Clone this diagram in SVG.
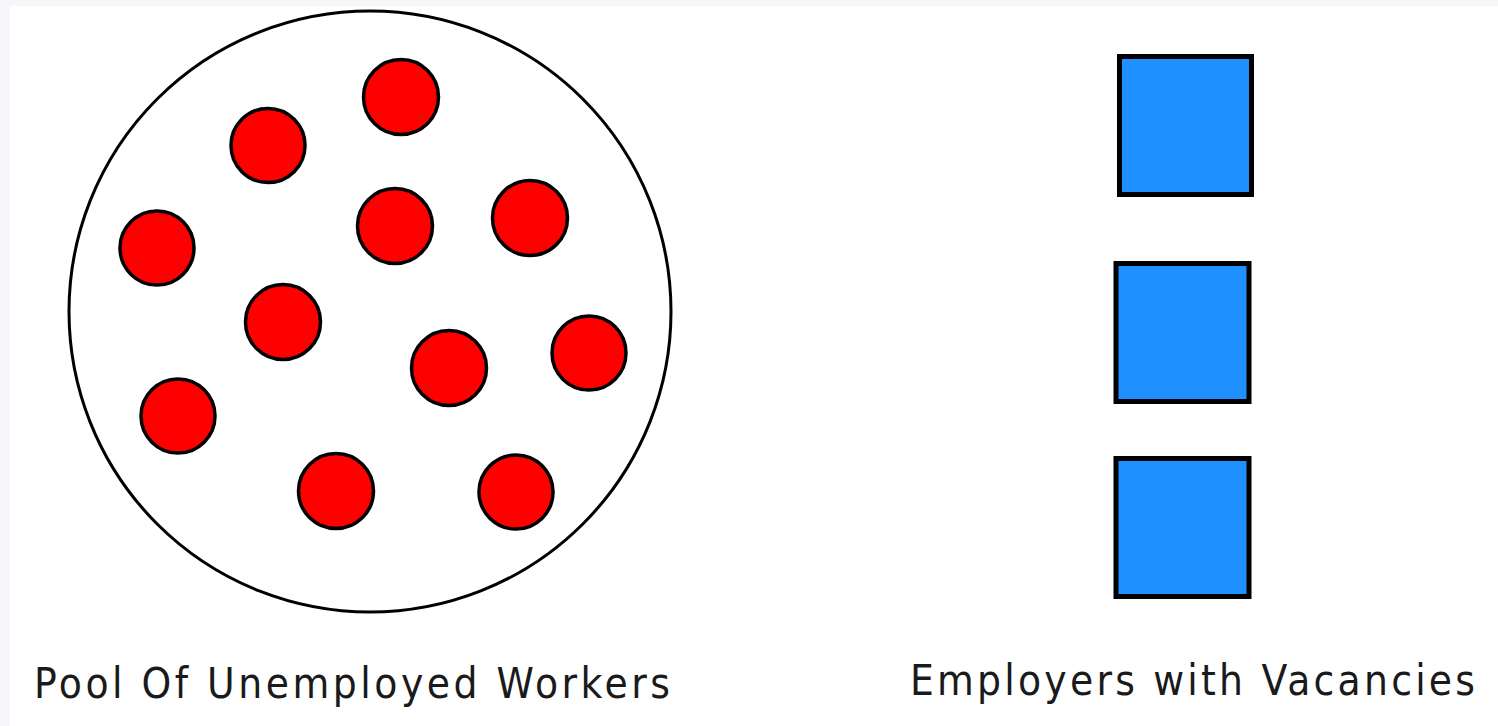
<svg xmlns="http://www.w3.org/2000/svg" width="1498" height="726" viewBox="0 0 1498 726">
  <style>
    .worker { fill: #ff0000; stroke: #000; stroke-width: 3.5; }
    .employer { fill: #1e90ff; stroke: #000; stroke-width: 5; }
    .pool { fill: #fff; stroke: #000; stroke-width: 3; }
    .label { font-family: "DejaVu Sans Condensed", "DejaVu Sans", "Liberation Sans", sans-serif; font-weight: 200; font-size: 42px; fill: #1a1a1a; }
  </style>
  <rect x="0" y="0" width="1498" height="726" fill="#f5f7fb"/>
  <rect x="10" y="6" width="1488" height="720" fill="#ffffff"/>

  <g id="pool">
    <ellipse class="pool" cx="370" cy="311.5" rx="301" ry="300.5"/>
  </g>
  <g id="workers">
    <circle class="worker" cx="401" cy="97" r="37.5"/>
    <circle class="worker" cx="268" cy="145.5" r="37"/>
    <circle class="worker" cx="157" cy="248" r="37"/>
    <circle class="worker" cx="395" cy="226" r="37.5"/>
    <circle class="worker" cx="530" cy="218" r="37.5"/>
    <circle class="worker" cx="283" cy="322" r="37.5"/>
    <circle class="worker" cx="449" cy="368" r="37.5"/>
    <circle class="worker" cx="589" cy="353" r="37"/>
    <circle class="worker" cx="178" cy="416" r="37"/>
    <circle class="worker" cx="336" cy="491" r="37.5"/>
    <circle class="worker" cx="516" cy="492" r="37"/>
  </g>

  <g id="employer1"><rect class="employer" x="1119.5" y="56.5" width="132" height="138"/></g>
  <g id="employer2"><rect class="employer" x="1116" y="263.5" width="133" height="138"/></g>
  <g id="employer3"><rect class="employer" x="1116" y="458.5" width="133" height="138"/></g>

  <g id="labels">
    <text class="label" x="34" y="698" textLength="636" lengthAdjust="spacing">Pool Of Unemployed Workers</text>
    <text class="label" x="910" y="695" textLength="565" lengthAdjust="spacing">Employers with Vacancies</text>
  </g>
  <g id="connectors"/>
</svg>
